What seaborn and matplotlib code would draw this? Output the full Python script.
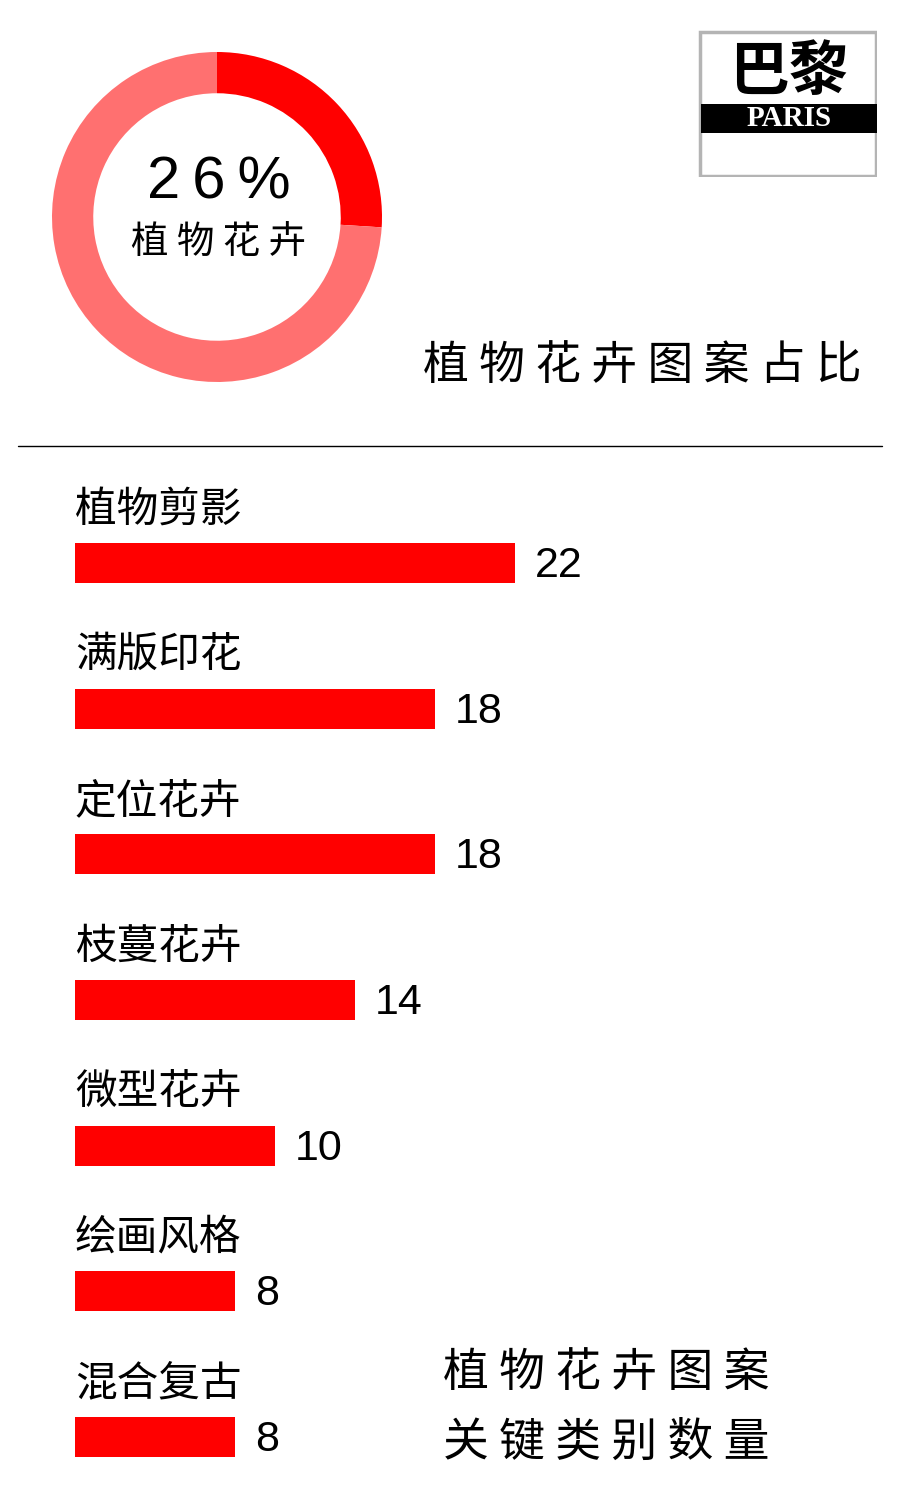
import matplotlib
matplotlib.use("Agg")
import matplotlib.pyplot as plt
from matplotlib.patches import Rectangle
from matplotlib.lines import Line2D
import seaborn as sns
import pandas as pd

# data
share_labels = ["植物花卉", "其他"]
share_values = [26, 74]
categories = ["植物剪影", "满版印花", "定位花卉", "枝蔓花卉", "微型花卉", "绘画风格", "混合复古"]
counts = [22, 18, 18, 14, 10, 8, 8]

W, H = 900, 1506
RED = "#ff0000"
LIGHT_RED = "#ff7070"

sns.set_theme(style="white")
plt.rcParams['font.family'] = ['Noto Sans CJK SC', 'DejaVu Sans']

fig = plt.figure(figsize=(W / 100, H / 100), dpi=100)
fig.patch.set_facecolor("white")


def px_rect(x0, y0, x1, y1):
    """pixel box (top-left origin) -> figure fraction rect"""
    return [x0 / W, 1 - y1 / H, (x1 - x0) / W, (y1 - y0) / H]


def fx(x):
    return x / W


def fy(y):
    return 1 - y / H


# donut
ax_pie = fig.add_axes(px_rect(52, 52, 382, 382))
ax_pie.pie(share_values, colors=[RED, LIGHT_RED], startangle=90, counterclock=False,
           wedgeprops=dict(width=0.25, linewidth=0))
ax_pie.set_xlim(-1, 1)
ax_pie.set_ylim(-1, 1)
ax_pie.set_aspect("equal")
ax_pie.axis("off")

pct = "\u2009".join(f"{share_values[0]}%")
fig.text(fx(219), fy(183), pct, family=['Liberation Sans', 'DejaVu Sans'], fontsize=43,
         ha="center", va="center", color="black")
fig.text(fx(219), fy(243), " ".join(share_labels[0]), fontsize=27, ha="center", va="center", color="black")

# top title
fig.text(fx(423), fy(366), " ".join("植物花卉图案占比"), fontsize=33, ha="left", va="center", color="black")

# logo
ax_logo = fig.add_axes(px_rect(698, 30, 877, 177))
ax_logo.set_xlim(0, 179)
ax_logo.set_ylim(147, 0)
ax_logo.axis("off")
ax_logo.add_patch(Rectangle((1.5, 1.5), 176, 144, facecolor="white", edgecolor="#b4b4b4", linewidth=2.5))
ax_logo.add_patch(Rectangle((2.5, 74), 176.5, 29, facecolor="black", edgecolor="none"))
ax_logo.text(91, 43, "巴黎", fontsize=43, fontweight="bold", ha="center", va="center", color="black")
ax_logo.text(91, 89, "PARIS", family=['Liberation Serif', 'DejaVu Serif'], fontsize=21,
             fontweight="bold", ha="center", va="center", color="white")

# divider
fig.add_artist(Line2D([fx(18), fx(882)], [fy(446), fy(446)], color="black", linewidth=1))

# bars
df = pd.DataFrame({"category": categories, "count": counts})
ax = fig.add_axes(px_rect(75, 470, 875, 1490))
sns.barplot(data=df, x="count", y="category", orient="h", color=RED, saturation=1,
            width=0.275, linewidth=0, ax=ax)
unit = (1437 - 563) / 6
ax.set_xlim(0, 40)
ax.set_ylim(6 + (1490 - 1437) / unit, -(563 - 470) / unit)
ax.axis("off")

for i, (cat, val) in enumerate(zip(categories, counts)):
    ax.text(0, i - 53 / unit, cat, fontsize=30, ha="left", va="center", color="black")
    ax.text(val + 1.0, i + 3 / unit, str(val), family=['Liberation Sans', 'DejaVu Sans'], fontsize=31,
            ha="left", va="center", color="black")

# bottom-right caption
fig.text(fx(443), fy(1373), " ".join("植物花卉图案"), fontsize=33, ha="left", va="center", color="black")
fig.text(fx(443), fy(1443), " ".join("关键类别数量"), fontsize=33, ha="left", va="center", color="black")

fig.savefig("out.png", dpi=100, facecolor="white")
